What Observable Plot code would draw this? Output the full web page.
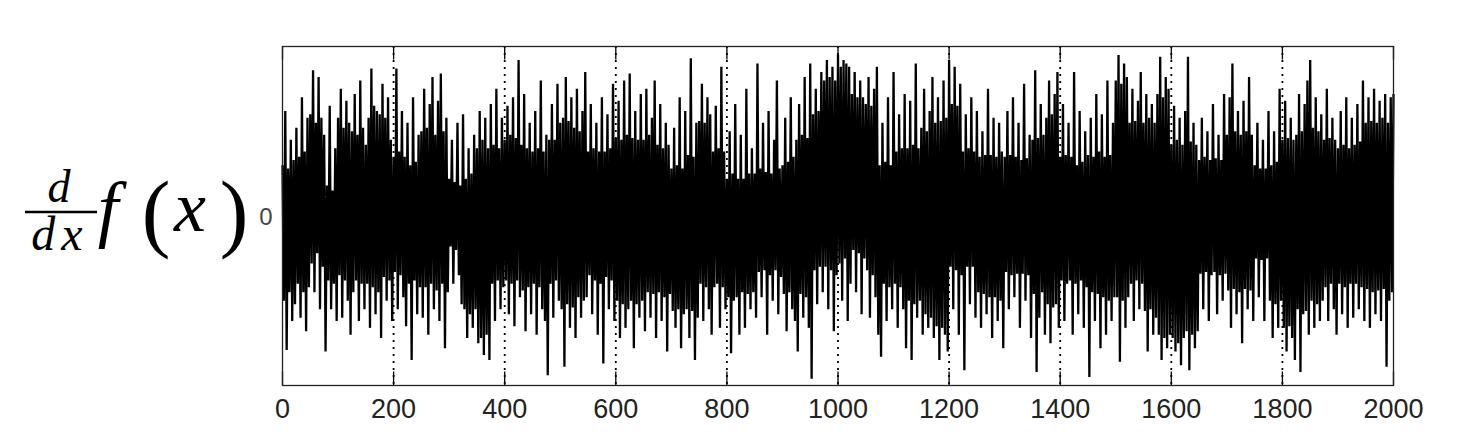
<!DOCTYPE html>
<html><head><meta charset="utf-8">
<script src="https://cdn.jsdelivr.net/npm/d3@7"></script>
<script src="https://cdn.jsdelivr.net/npm/@observablehq/plot@0.6"></script>
<style>
html,body{margin:0;padding:0;background:#fff;}
#chart{width:1458px;height:448px;overflow:hidden;}
</style>
</head><body><div id="chart"></div>
<script>
// sample spacing along x (samples 0..2000)
const xStep = 2.5;
// derivative values, read in blocks of 100 samples (scaled to -100..100)
const c0 = [30,-50,62,-79,28,-45,45,-62,33,-52, 52,-40,35,-60,70,-45,38,-68,58,-42, 60,-28,86,-45,55,-22,82,-55,58,-30, 48,-80,18,-38,65,-55,15,-40,40,-62];
const c1 = [58,-35,75,-60,52,-38,68,-50,55,-70, 50,-45,72,-38,48,-62,80,-40,52,-55, 42,-40,58,-66,87,-42,65,-58,62,-45, 60,-72,78,-36,58,-50,70,-38,45,-62];
const c2 = [35,-33,87,-55,38,-35,62,-48,35,-65, 55,-40,30,-85,70,-38,32,-58,48,-42, 50,-60,75,-42,52,-70,66,-40,82,-55, 48,-44,68,-62,84,-40,50,-78,58,-45];
const c3 = [22,-18,45,-40,20,-20,55,-35,18,-52, 60,-55,22,-72,40,-58,25,-66,48,-55, 40,-75,62,-72,45,-82,58,-70,40,-85, 66,-40,42,-62,75,-38,40,-55,58,-42];
const c4 = [45,-38,65,-58,48,-40,70,-65,46,-38, 92,-48,42,-44,72,-68,40,-42,55,-58, 38,-40,62,-70,40,-42,80,-55,38,-62, 48,-94,45,-40,66,-60,45,-38,78,-50];
const c5 = [55,-55,58,-89,82,-52,56,-66,70,-54, 52,-72,75,-48,50,-60,62,-50,85,-48, 38,-35,66,-58,40,-38,55,-70,38,-40, 70,-87,38,-36,60,-55,40,-38,78,-62];
const c6 = [46,-50,68,-72,45,-52,80,-66,48,-55, 84,-50,46,-78,62,-52,45,-60,72,-50, 45,-68,75,-45,48,-60,58,-46,80,-72, 42,-45,66,-62,40,-48,55,-80,42,-46];
const c7 = [28,-56,52,-66,30,-55,70,-78,28,-58, 62,-55,36,-72,93,-56,35,-85,55,-60, 56,-40,78,-62,55,-42,70,-55,60,-70, 38,-42,65,-40,40,-66,88,-42,38,-55];
const c8 = [22,-48,50,-81,25,-50,66,-48,22,-70, 48,-45,22,-66,75,-46,25,-55,40,-45, 25,-60,90,-33,28,-48,55,-32,26,-70, 62,-35,25,-50,45,-32,80,-58,28,-36];
const c9 = [30,-46,58,-68,32,-45,70,-55,35,-62, 45,-80,66,-46,48,-60,82,-48,46,-66, 90,-96,60,-32,75,-52,62,-30,85,-45, 80,-30,92,-55,82,-32,88,-68,80,-35];
const c10 = [95,-28,88,-50,92,-25,90,-62,88,-40, 72,-20,85,-45,70,-22,80,-58,70,-25, 66,-32,82,-60,65,-35,75,-48,88,-70, 30,-83,55,-40,32,-62,70,-42,30,-55];
const c11 = [85,-40,38,-66,60,-42,40,-55,72,-78, 40,-50,68,-85,42,-52,90,-60,40,-50, 52,-70,75,-58,50,-66,62,-60,82,-72, 55,-65,70,-85,56,-66,80,-70,58,-80];
const c12 = [92,-30,66,-55,88,-32,65,-70,78,-35, 38,-91,60,-30,40,-52,70,-30,38,-60, 62,-45,35,-66,50,-46,36,-58,75,-48, 36,-72,58,-48,35,-62,55,-50,38,-78];
const c13 = [35,-33,62,-55,36,-35,70,-48,35,-34, 55,-66,33,-34,78,-50,34,-35,48,-72, 45,-46,86,-92,46,-60,66,-45,48,-70, 58,-52,80,-75,60,-54,72,-52,85,-66];
const c14 = [35,-38,66,-62,36,-40,55,-38,35,-70, 85,-40,30,-58,62,-38,32,-66,50,-42, 36,-95,58,-45,35,-62,72,-46,38,-78, 60,-48,35,-70,80,-50,36,-62,55,-48];
const c15 = [80,-48,95,-86,78,-50,90,-66,82,-48, 55,-40,75,-62,56,-38,68,-55,85,-40, 55,-56,72,-80,58,-55,66,-70,55,-60, 72,-70,94,-85,70,-72,82,-78,75,-70];
const c16 = [42,-72,65,-80,45,-75,58,-88,42,-72, 62,-68,94,-91,44,-70,55,-78,42,-68, 33,-34,58,-55,35,-33,50,-62,33,-35, 66,-33,34,-58,48,-35,33,-50,72,-34];
const c17 = [48,-44,70,-66,90,-43,50,-58,62,-45, 48,-75,68,-43,50,-55,82,-44,48,-62, 30,-25,55,-48,28,-26,45,-62,28,-25, 62,-50,30,-72,50,-52,32,-66,75,-50];
const c18 = [45,-66,68,-80,46,-65,58,-72,45,-85, 48,-55,72,-92,50,-58,66,-56,80,-70, 92,-50,52,-66,70,-52,50,-62,60,-50, 45,-42,75,-62,46,-40,58,-55,45,-70];
const c19 = [40,-40,62,-58,42,-42,70,-66,40,-40, 58,-60,42,-40,66,-55,44,-42,80,-62, 55,-43,70,-66,56,-45,75,-58,55,-44, 68,-62,58,-43,72,-89,55,-50,70,-45, 72];

const xTicks = [0,200,400,600,800,1000,1200,1400,1600,1800,2000];
const xTickLabels = ["0","200","400","600","800","1000","1200","1400","1600","1800","2000"];
const gridX = [200,400,600,800,1000,1200,1400,1600,1800];
const yTicks = [0];
const yTickLabels = ["0"];

const values = [].concat(c0,c1,c2,c3,c4,c5,c6,c7,c8,c9,c10,c11,c12,c13,c14,c15,c16,c17,c18,c19);
const data = values.map((v, i) => ({x: i * xStep, y: v}));
const xLab = xTicks.map((t, i) => ({x: t, label: xTickLabels[i]}));
const yLab = yTicks.map((t, i) => ({y: t, label: yTickLabels[i]}));

const plot = Plot.plot({
  width: 1458,
  height: 448,
  marginLeft: 282,
  marginRight: 65,
  marginTop: 46,
  marginBottom: 63,
  style: {fontFamily: "'Liberation Sans', Arial, sans-serif", background: "#fff", color: "#000", overflow: "visible"},
  x: {domain: [0, 2000], axis: null},
  y: {domain: [-100, 100], axis: null},
  marks: [
    Plot.ruleX(gridX, {stroke: "#000", strokeWidth: 1.8, strokeDasharray: "2,5"}),
    Plot.line(data, {x: "x", y: "y", stroke: "#000", strokeWidth: 2.3, strokeLinejoin: "miter", strokeLinecap: "butt", strokeMiterlimit: 2}),
    Plot.ruleX(xTicks, {y1: -100, y2: -92, stroke: "#000", strokeWidth: 1.3}),
    Plot.ruleX(xTicks, {y1: 92, y2: 100, stroke: "#000", strokeWidth: 1.3}),
    Plot.text(xLab, {x: "x", y: -100, text: "label", lineAnchor: "top", dy: 13, fontSize: 27, fill: "#222", textAnchor: "middle"}),
    Plot.text(yLab, {x: 0, y: "y", text: "label", dx: -10, dy: 1, fontSize: 24, fill: "#444", textAnchor: "end"}),
    Plot.frame({stroke: "#222", strokeWidth: 1.3})
  ]
});
document.getElementById("chart").appendChild(plot);

// y-axis label: d/dx f(x)
const svg = d3.select(plot);
const lab = svg.append("g").attr("font-family", "'Liberation Serif', 'Times New Roman', serif").attr("fill", "#000");
lab.append("text").attr("x", 59).attr("y", 202).attr("text-anchor", "middle").attr("font-size", 46).attr("font-style", "italic").text("d");
lab.append("line").attr("x1", 25).attr("x2", 97).attr("y1", 212).attr("y2", 212).attr("stroke", "#000").attr("stroke-width", 2.5);
lab.append("text").attr("x", 60).attr("y", 250).attr("text-anchor", "middle").attr("font-size", 48).attr("font-style", "italic").attr("letter-spacing", 6).text("dx");
lab.append("text").attr("x", 108).attr("y", 233).attr("font-size", 74).attr("font-style", "italic").text("f");
lab.append("text").attr("x", 156).attr("y", 241).attr("font-size", 86).text("(");
lab.append("text").attr("x", 190).attr("y", 231).attr("font-size", 72).attr("font-style", "italic").text("x");
lab.append("text").attr("x", 234).attr("y", 241).attr("font-size", 86).text(")");
</script>
</body></html>
